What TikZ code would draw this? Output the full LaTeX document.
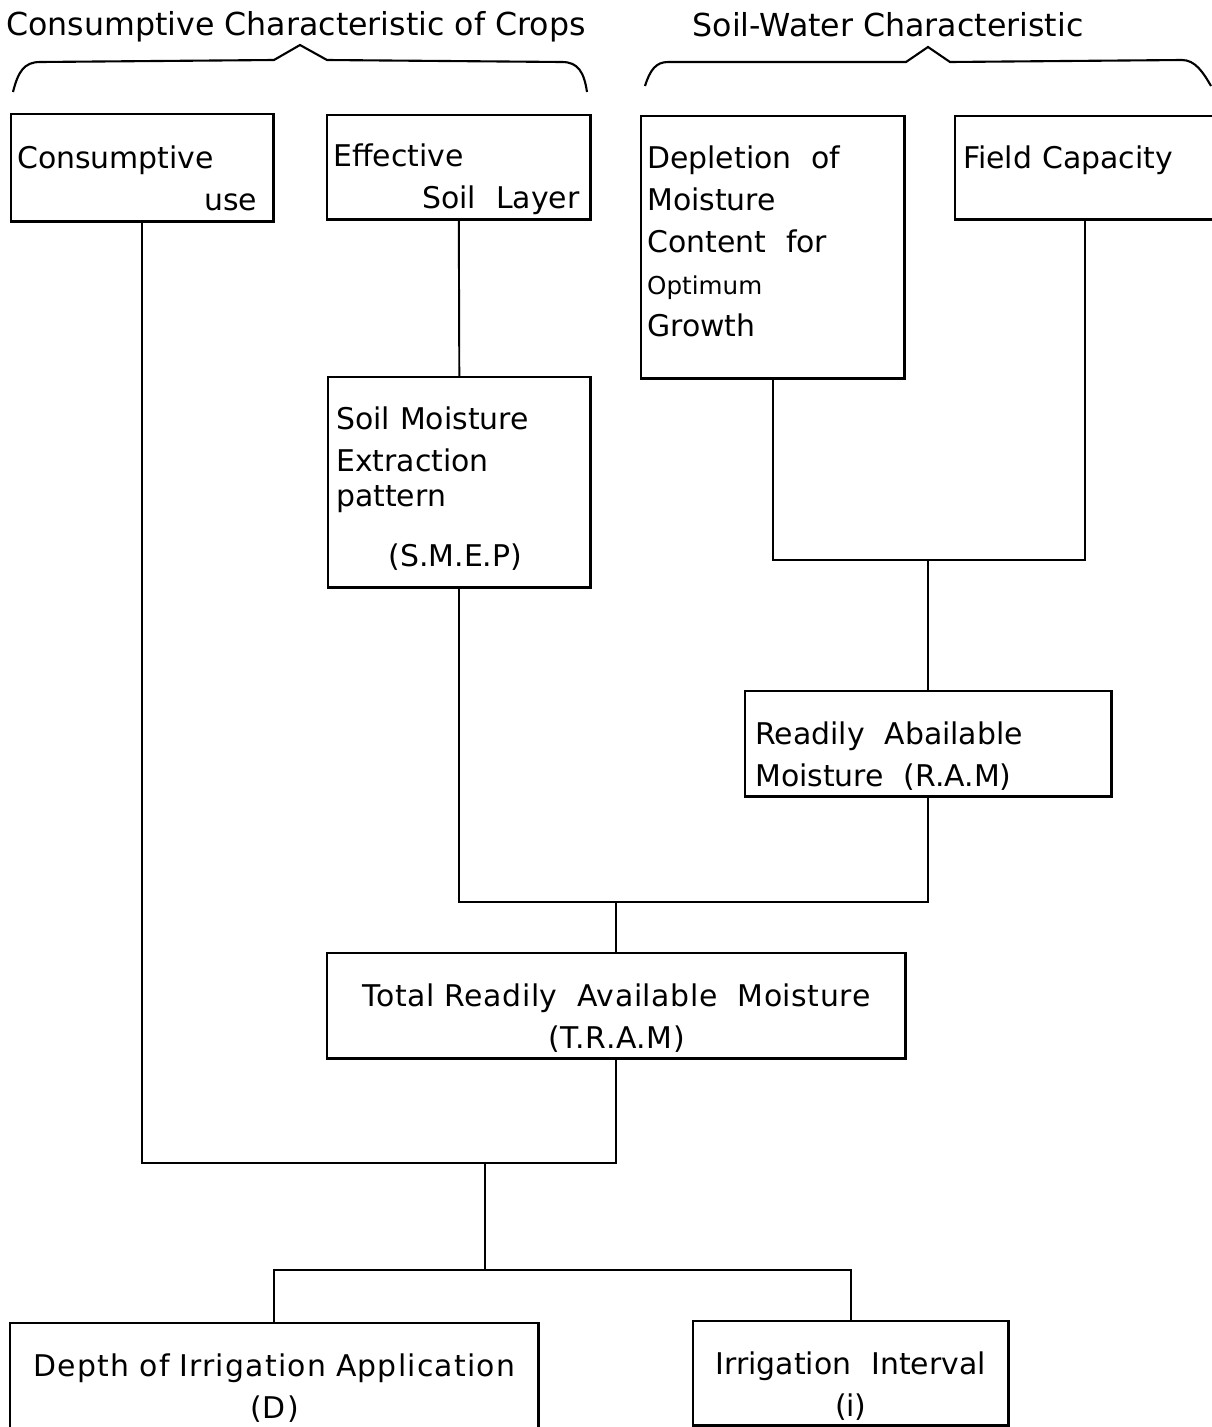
\documentclass[tikz,border=0pt]{standalone}
\usepackage{fontspec}
\setmainfont{DejaVu Sans}
\usepackage{tikz}
\tikzset{
	box/.style={draw, line width=0.7pt, anchor=north west, inner xsep=0.06cm, inner ysep=0pt, align=left,
		font=\fontsize{8.5pt}{11.95pt}\selectfont},
	head/.style={anchor=base, inner sep=0pt, font=\fontsize{9pt}{12pt}\selectfont},
	conn/.style={line width=0.55pt},
	brace/.style={line width=0.6pt},
}

\begin{document}
\begin{tikzpicture}[x=0.01cm, y=-0.01cm]
	\useasboundingbox (0,0) rectangle (1211,1427);

	\node[head] (hcrop) at (296,35) {Consumptive Characteristic of Crops};
	\node[head] (hsoil) at (888,37) {Soil-Water Characteristic};

	\draw[brace] (13,92) .. controls (18,72) and (24,62) .. (40,62) -- (274,60) -- (300,45) -- (327,60) -- (562,62) .. controls (578,62) and (584,72) .. (587,92);
	\draw[brace] (645,86) .. controls (650,70) and (656,62) .. (668,62) -- (906,62) -- (928,47) -- (950,62) -- (1182,60) .. controls (1195,60) and (1203,72) .. (1211,86);

	\node[box, text width=2.50cm, text height=0.54cm, text depth=0.53cm] (cu) at (10,113)
		{Consumptive\\\makebox[\linewidth][r]{use\hspace{0.1cm}}};
	\node[box, text width=2.51cm, text height=0.51cm, text depth=0.53cm] (esl) at (326,114)
		{Effective\\\makebox[\linewidth][r]{Soil~ Layer\hspace{0.05cm}}};
	\node[box, text width=2.51cm, text height=0.52cm, text depth=2.10cm] (dep) at (640,115)
		{Depletion~ of\\Moisture\\Content~ for\\{\fontsize{7pt}{11.95pt}\selectfont Optimum}\\Growth};
	\node[box, inner xsep=0.08cm, text width=2.44cm, text height=0.52cm, text depth=0.51cm] (fc) at (954,115)
		{Field Capacity};
	\node[box, inner xsep=0.08cm, text width=2.46cm, text height=0.52cm, text depth=1.58cm] (smep) at (327,376)
		{Soil Moisture\\Extraction\\[-0.07cm]pattern\\[0.18cm]\makebox[\linewidth][c]{(S.M.E.P)\hspace{0.08cm}}};
	\node[box, inner xsep=0.1cm, text width=3.46cm, text height=0.53cm, text depth=0.52cm] (ram) at (744,690)
		{Readily~ Abailable\\Moisture~ (R.A.M)};
	\node[box, align=center, text width=5.66cm, text height=0.53cm, text depth=0.52cm] (tram) at (326,952)
		{\addfontfeatures{LetterSpace=2}Total Readily~ Available~ Moisture\\(T.R.A.M)};
	\node[box, align=center, text width=5.16cm, text height=0.53cm, text depth=0.55cm] (dia) at (9,1322)
		{\addfontfeatures{LetterSpace=4}Depth of Irrigation Application\\(D)};
	\node[box, align=center, text width=3.03cm, text height=0.53cm, text depth=0.51cm] (ii) at (692,1320)
		{Irrigation~ Interval\\(i)};

	\coordinate (jram) at (ram.north |- 0,560);
	\coordinate (jtram) at (tram.north |- 0,902);
	\coordinate (jfinal) at (485,1163);
	\coordinate (jout) at (485,1270);

	\draw[conn] (esl.south) -- (smep.north);
	\draw[conn] (dep.south) |- (jram) -| (fc.south);
	\draw[conn] (jram) -- (ram.north);
	\draw[conn] (smep.south) |- (jtram) -| (ram.south);
	\draw[conn] (jtram) -- (tram.north);
	\draw[conn] (cu.south) |- (jfinal) -| (tram.south);
	\draw[conn] (jfinal) -- (jout);
	\draw[conn] (dia.north) |- (jout) -| (ii.north);
\end{tikzpicture}
\end{document}
